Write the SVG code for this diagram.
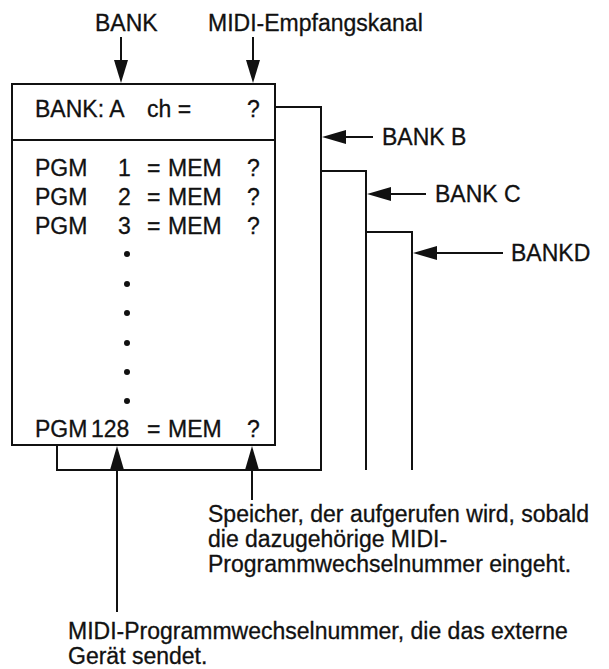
<svg xmlns="http://www.w3.org/2000/svg" width="609" height="669" viewBox="0 0 609 669">
<style>
text{font-family:"Liberation Sans",Arial,sans-serif;font-size:23px;fill:#111;stroke:#111;stroke-width:0.3}
.ln{stroke:#111;stroke-width:2;fill:none}
.ah{fill:#111}
</style>
<rect width="609" height="669" fill="#fff"/>
<g id="layers">
<polyline class="ln" points="275,107 321,107 321,470 57,470 57,445"/>
<polyline class="ln" points="321,171 366,171 366,470"/>
<polyline class="ln" points="366,232 412,232 412,470"/>
</g>
<g id="main-box">
<rect class="ln" x="12" y="84" width="263" height="361"/>
<line class="ln" x1="12" y1="140" x2="275" y2="140"/>
<text x="35" y="117">BANK: A</text>
<text x="147" y="117">ch =</text>
<text x="247" y="117">?</text>
<text x="35" y="176">PGM</text><text x="118" y="176">1</text><text x="147" y="176">=</text><text x="168" y="176">MEM</text><text x="247" y="176">?</text>
<text x="35" y="205">PGM</text><text x="118" y="205">2</text><text x="147" y="205">=</text><text x="168" y="205">MEM</text><text x="247" y="205">?</text>
<text x="35" y="234">PGM</text><text x="118" y="234">3</text><text x="147" y="234">=</text><text x="168" y="234">MEM</text><text x="247" y="234">?</text>
<g class="ah">
<circle cx="127" cy="254" r="3"/><circle cx="127" cy="284" r="3"/><circle cx="127" cy="313" r="3"/>
<circle cx="127" cy="343" r="3"/><circle cx="127" cy="372" r="3"/><circle cx="127" cy="401" r="3"/>
</g>
<text x="35" y="437">PGM</text><text x="91" y="437">128</text><text x="147" y="437">=</text><text x="168" y="437">MEM</text><text x="247" y="437">?</text>
</g>
<g id="label-bank"><text x="95" y="31">BANK</text></g>
<g id="label-midi-ch"><text x="208" y="31">MIDI-Empfangskanal</text></g>
<g id="label-bank-b"><text x="382" y="145">BANK B</text></g>
<g id="label-bank-c"><text x="435" y="202">BANK C</text></g>
<g id="label-bank-d"><text x="511" y="261">BANKD</text></g>
<g id="label-mem">
<text x="208" y="522">Speicher, der aufgerufen wird, sobald</text>
<text x="208" y="547">die dazugehörige MIDI-</text>
<text x="208" y="572">Programmwechselnummer eingeht.</text>
</g>
<g id="label-pgm">
<text x="68" y="639">MIDI-Programmwechselnummer, die das externe</text>
<text x="68" y="664">Gerät sendet.</text>
</g>
<g id="connectors">
<line class="ln" x1="121" y1="37" x2="121" y2="62"/>
<polygon class="ah" points="114,60 128,60 121,83"/>
<line class="ln" x1="253" y1="37" x2="253" y2="62"/>
<polygon class="ah" points="246,60 260,60 253,83"/>
<line class="ln" x1="345" y1="137" x2="373" y2="137"/>
<polygon class="ah" points="322,137 346,130 346,144"/>
<line class="ln" x1="390" y1="194" x2="426" y2="194"/>
<polygon class="ah" points="367,194 391,187 391,201"/>
<line class="ln" x1="436" y1="253" x2="503" y2="253"/>
<polygon class="ah" points="413,253 437,246 437,260"/>
<line class="ln" x1="117" y1="468" x2="117" y2="612"/>
<polygon class="ah" points="110,470 124,470 117,446"/>
<line class="ln" x1="252" y1="468" x2="252" y2="500"/>
<polygon class="ah" points="245,470 259,470 252,446"/>
</g>
</svg>
